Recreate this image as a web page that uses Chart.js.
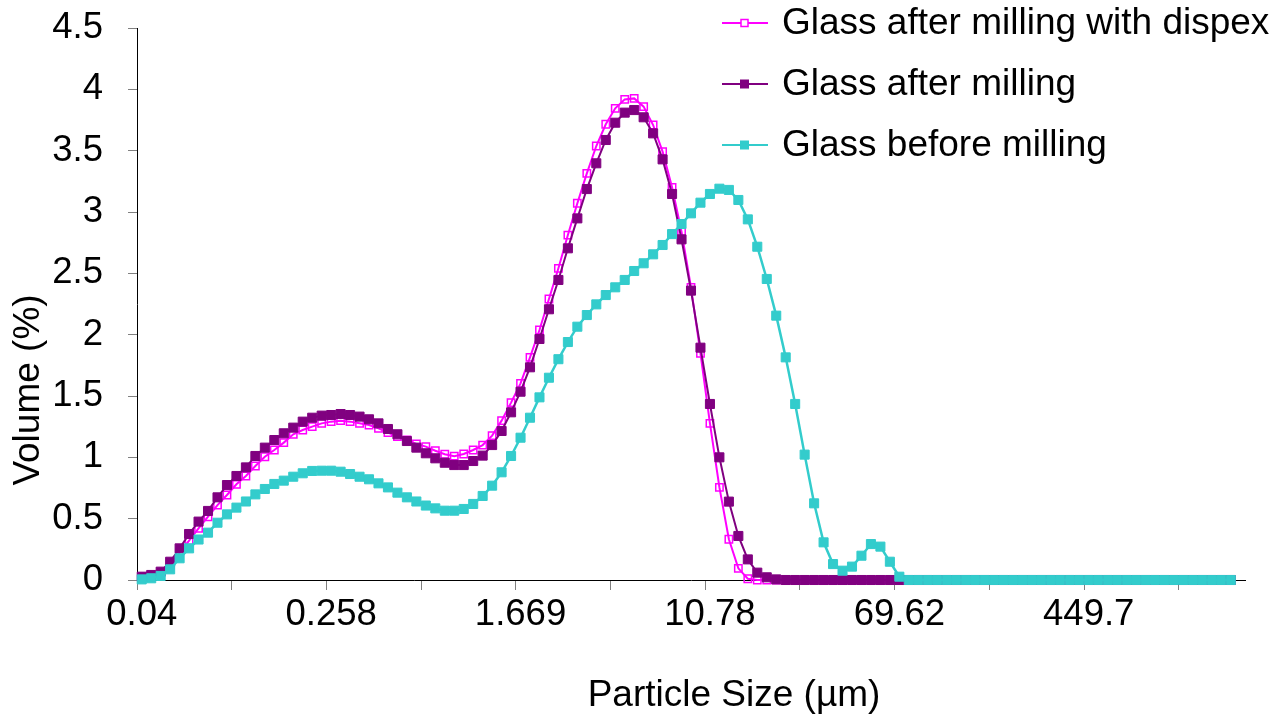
<!DOCTYPE html>
<html>
<head>
    <title>Glass particle size distribution</title>
    <script src="https://cdn.jsdelivr.net/npm/chart.js"></script>
    <style>
        body {
            margin: 0;
            background-color: #ffffff;
        }
        canvas {
            display: block;
        }
    </style>
</head>
<body>

<canvas id="psdChart" width="1284" height="719"></canvas>

<script>
    // size classes are log spaced; only every 20th class gets a label
    const tickLabels = ['0.04', '0.258', '1.669', '10.78', '69.62', '449.7'];
    const binCount = 117;

    const withDispex = [
        0.025, 0.04, 0.06, 0.122, 0.223, 0.321, 0.421, 0.516, 0.611, 0.693,
        0.78, 0.848, 0.929, 1.005, 1.06, 1.12, 1.188, 1.223, 1.25, 1.277,
        1.291, 1.299, 1.291, 1.277, 1.264, 1.236, 1.201, 1.17, 1.141, 1.11,
        1.087, 1.054, 1.025, 1.01, 1.027, 1.06, 1.10, 1.177, 1.299, 1.446,
        1.603, 1.815, 2.038, 2.291, 2.541, 2.812, 3.071, 3.315, 3.538, 3.715,
        3.845, 3.918, 3.926, 3.859, 3.709, 3.492, 3.201, 2.84, 2.386, 1.848,
        1.277, 0.755, 0.332, 0.095, 0.01, 0, 0, 0, 0, 0,
        0, 0, 0, 0, 0, 0, 0, 0, 0, 0,
        0, 0, 0, 0, 0, 0, 0, 0, 0, 0,
        0, 0, 0, 0, 0, 0, 0, 0, 0, 0,
        0, 0, 0, 0, 0, 0, 0, 0, 0, 0,
        0, 0, 0, 0, 0, 0
    ];

    const afterMilling = [
        0.027, 0.041, 0.068, 0.149, 0.258, 0.375, 0.476, 0.563, 0.674, 0.774,
        0.848, 0.918, 1.011, 1.079, 1.141, 1.196, 1.242, 1.291, 1.323, 1.34,
        1.345, 1.353, 1.345, 1.332, 1.31, 1.277, 1.231, 1.188, 1.133, 1.079,
        1.033, 0.992, 0.956, 0.937, 0.937, 0.97, 1.014, 1.10, 1.215, 1.367,
        1.535, 1.734, 1.965, 2.207, 2.446, 2.704, 2.948, 3.187, 3.397, 3.587,
        3.728, 3.81, 3.831, 3.772, 3.641, 3.429, 3.147, 2.777, 2.359, 1.894,
        1.435, 1.0, 0.639, 0.359, 0.168, 0.06, 0.022, 0.005, 0, 0,
        0, 0, 0, 0, 0, 0, 0, 0, 0, 0,
        0, 0, 0, 0, 0, 0, 0, 0, 0, 0,
        0, 0, 0, 0, 0, 0, 0, 0, 0, 0,
        0, 0, 0, 0, 0, 0, 0, 0, 0, 0,
        0, 0, 0, 0, 0, 0
    ];

    const beforeMilling = [
        0.005, 0.014, 0.033, 0.087, 0.177, 0.258, 0.33, 0.386, 0.467, 0.535,
        0.59, 0.64, 0.698, 0.742, 0.783, 0.81, 0.842, 0.87, 0.889, 0.891,
        0.891, 0.883, 0.864, 0.842, 0.821, 0.788, 0.755, 0.712, 0.674, 0.64,
        0.607, 0.584, 0.565, 0.565, 0.579, 0.62, 0.685, 0.769, 0.878, 1.011,
        1.16, 1.323, 1.489, 1.649, 1.80, 1.94, 2.065, 2.16, 2.247, 2.323,
        2.386, 2.446, 2.519, 2.582, 2.655, 2.731, 2.82, 2.902, 2.989, 3.076,
        3.147, 3.19, 3.18, 3.098, 2.94, 2.717, 2.454, 2.155, 1.815, 1.435,
        1.022, 0.625, 0.307, 0.13, 0.076, 0.109, 0.198, 0.293, 0.272, 0.149,
        0.027, 0, 0, 0, 0, 0, 0, 0, 0, 0,
        0, 0, 0, 0, 0, 0, 0, 0, 0, 0,
        0, 0, 0, 0, 0, 0, 0, 0, 0, 0,
        0, 0, 0, 0, 0, 0
    ];

    const FONT = '"Liberation Sans", Arial, sans-serif';
    Chart.defaults.font.family = FONT;
    Chart.defaults.color = '#000000';

    const bins = Array.from({ length: binCount }, (_, i) => i);

    // axis titles and the legend are painted by hand so they can sit
    // where they sit on the sheet, including over the plot area
    const sheetText = {
        id: 'sheetText',
        afterDraw(chart) {
            const c = chart.ctx;
            c.save();
            c.fillStyle = '#000000';
            c.font = '37px ' + FONT;
            c.textAlign = 'center';
            c.textBaseline = 'alphabetic';
            c.fillText('Particle Size (\u00b5m)', 734, 706);

            c.save();
            c.translate(39, 390);
            c.rotate(-Math.PI / 2);
            c.fillText('Volume (%)', 0, 0);
            c.restore();

            c.textAlign = 'left';
            c.textBaseline = 'middle';
            chart.data.datasets.forEach((ds, k) => {
                const y = 23 + 61 * k;
                c.strokeStyle = ds.borderColor;
                c.lineWidth = 2;
                c.beginPath();
                c.moveTo(722, y);
                c.lineTo(768, y);
                c.stroke();

                if (ds.hollow) {
                    c.fillStyle = '#ffffff';
                    c.fillRect(741, y - 3.5, 7, 7);
                    c.lineWidth = 1.5;
                    c.strokeRect(741, y - 3.5, 7, 7);
                } else {
                    c.fillStyle = ds.borderColor;
                    c.fillRect(740, y - 4.5, 9, 9);
                }

                c.fillStyle = '#000000';
                c.fillText(ds.label, 782, y + 1);
            });
            c.restore();
        }
    };

    const ctx = document.getElementById('psdChart').getContext('2d');

    new Chart(ctx, {
        type: 'line',
        data: {
            labels: bins,
            datasets: [
                {
                    label: 'Glass after milling with dispex',
                    data: withDispex,
                    borderColor: '#ff00ff',
                    backgroundColor: 'rgba(0,0,0,0)',
                    pointBackgroundColor: 'rgba(0,0,0,0)',
                    pointBorderColor: '#ff00ff',
                    pointBorderWidth: 1.5,
                    pointStyle: 'rect',
                    pointRadius: 5.2,
                    borderWidth: 2,
                    hollow: true,
                    order: 3
                },
                {
                    label: 'Glass after milling',
                    data: afterMilling,
                    borderColor: '#800080',
                    backgroundColor: '#800080',
                    pointBackgroundColor: '#800080',
                    pointBorderColor: '#800080',
                    pointBorderWidth: 1,
                    pointStyle: 'rect',
                    pointRadius: 6.4,
                    borderWidth: 2,
                    order: 2
                },
                {
                    label: 'Glass before milling',
                    data: beforeMilling,
                    borderColor: '#33cccc',
                    backgroundColor: '#33cccc',
                    pointBackgroundColor: '#33cccc',
                    pointBorderColor: '#33cccc',
                    pointBorderWidth: 1,
                    pointStyle: 'rect',
                    pointRadius: 6.4,
                    borderWidth: 2.5,
                    order: 1
                }
            ]
        },
        options: {
            responsive: false,
            animation: false,
            clip: false,
            layout: {
                padding: { top: 28, right: 39, bottom: 0, left: 0 }
            },
            elements: {
                line: { tension: 0 }
            },
            plugins: {
                legend: { display: false },
                tooltip: { enabled: false }
            },
            scales: {
                x: {
                    type: 'category',
                    offset: true,
                    grid: {
                        offset: true,
                        drawOnChartArea: false,
                        drawTicks: true,
                        tickLength: 10,
                        color: c => c.index % 10 === 0 ? '#808080' : 'rgba(0,0,0,0)'
                    },
                    border: { color: '#000000', width: 1 },
                    ticks: {
                        autoSkip: false,
                        maxRotation: 0,
                        minRotation: 0,
                        padding: 3,
                        color: '#000000',
                        font: { size: 36.5 },
                        callback: (value, index) => index % 20 === 0 ? tickLabels[index / 20] : ''
                    },
                    afterFit: scale => {
                        scale.height = 139;
                        scale.paddingLeft = 0;
                        scale.paddingRight = 0;
                    }
                },
                y: {
                    min: 0,
                    max: 4.5,
                    grid: {
                        drawOnChartArea: false,
                        drawTicks: true,
                        tickLength: 9,
                        color: '#808080'
                    },
                    border: { color: '#000000', width: 1 },
                    ticks: {
                        stepSize: 0.5,
                        padding: 25,
                        color: '#000000',
                        font: { size: 36.5 },
                        callback: value => String(value)
                    },
                    afterFit: scale => {
                        scale.width = 137;
                        scale.paddingTop = 0;
                        scale.paddingBottom = 0;
                    }
                }
            }
        },
        plugins: [sheetText]
    });
</script>
</body>
</html>
